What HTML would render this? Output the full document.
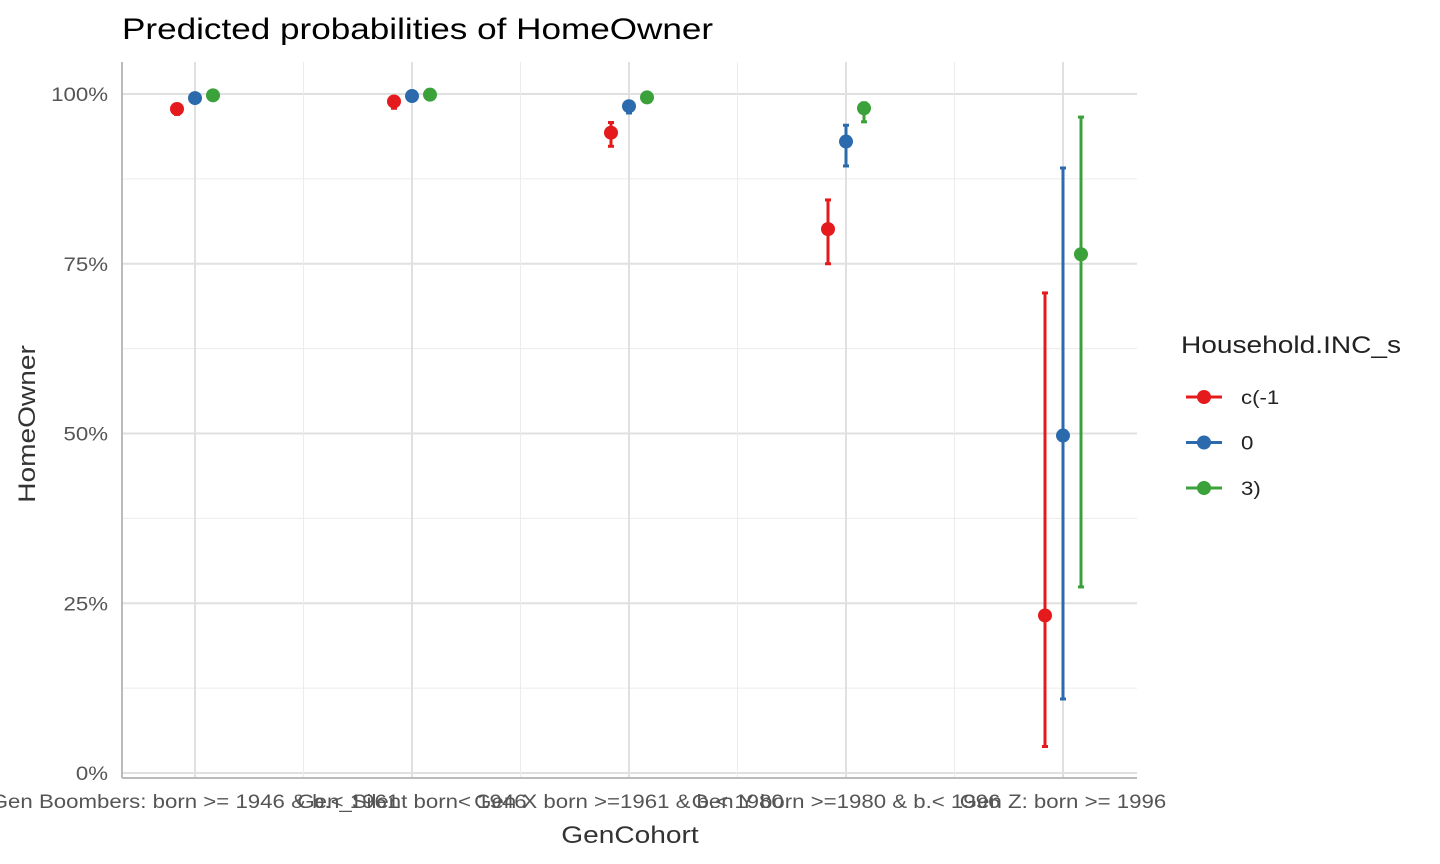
<!DOCTYPE html>
<html><head><meta charset="utf-8"><style>
body{margin:0;background:#fff;font-family:"Liberation Sans",Arial,sans-serif;}
svg{display:block}
</style></head><body>
<svg id="chart" width="1440" height="864">
<text x="122" y="39" font-size="30" fill="#000">Predicted probabilities of HomeOwner</text>
<g id="grid"></g>
<g id="axes"></g>
<g id="marks"></g>
<text x="630" y="843" font-size="24" fill="#333" text-anchor="middle">GenCohort</text>
<text transform="translate(35,424) rotate(-90)" font-size="24" fill="#333" text-anchor="middle">HomeOwner</text>
<g id="legend"></g>
</svg>
<script>
const categories=["Gen Boombers: born >= 1946 & b.< 1961","Gen_Silent born< 1946","Gen X born >=1961 & b.< 1980","Gen Y born >=1980 & b.< 1996","Gen Z: born >= 1996"];
const seriesNames=["c(-1","0","3)"];
const redVals=[97.8,98.9,94.3,80.1,23.2];
const redLo=[97.0,97.9,92.3,75.0,3.9];
const redHi=[98.5,99.5,95.8,84.4,70.7];
const blueVals=[99.4,99.7,98.2,93.0,49.7];
const blueLo=[99.0,99.4,97.2,89.4,10.9];
const blueHi=[99.7,99.9,98.9,95.4,89.1];
const greenVals=[99.8,99.9,99.5,97.9,76.4];
const greenLo=[99.6,99.8,99.1,95.9,27.4];
const greenHi=[99.9,100,99.7,98.7,96.6];
const yTicks=[0,25,50,75,100];
const yTickLabels=["0%","25%","50%","75%","100%"];
const colors=["#E41A1C","#2B6BAD","#3BA13B"];
const NS="http://www.w3.org/2000/svg";
const X0=122,X1=1137,Ytop=62,Ybot=778;
const y=v=>773-v*6.79;
const x=i=>195+i*217;
function mk(tag,attrs,parent){const e=document.createElementNS(NS,tag);for(const k in attrs)e.setAttribute(k,attrs[k]);parent.appendChild(e);return e;}
const grid=document.getElementById('grid'),axes=document.getElementById('axes'),marks=document.getElementById('marks'),legend=document.getElementById('legend');
for(let i=0;i<yTicks.length;i++){
  const l=mk('line',{x1:X0,x2:X1,y1:y(yTicks[i]),y2:y(yTicks[i]),stroke:'#e0e0e0','stroke-width':2},grid);
  
  if(i<yTicks.length-1){const m=mk('line',{x1:X0,x2:X1,y1:y(yTicks[i]+12.5),y2:y(yTicks[i]+12.5),stroke:'#ececec','stroke-width':1},grid);
  }
  const t=mk('text',{x:108,y:y(yTicks[i])+7,'font-size':19,fill:'#555','text-anchor':'end'},axes);t.textContent=yTickLabels[i];
  
}
for(let i=0;i<categories.length;i++){
  const l=mk('line',{x1:x(i),x2:x(i),y1:Ytop,y2:Ybot,stroke:'#e0e0e0','stroke-width':2},grid);
  
  if(i<categories.length-1){const m=mk('line',{x1:x(i)+108.5,x2:x(i)+108.5,y1:Ytop,y2:Ybot,stroke:'#ececec','stroke-width':1},grid);
  }
  const t=mk('text',{x:x(i),y:808,'font-size':19,fill:'#555','text-anchor':'middle'},axes);t.textContent=categories[i];
  
}
let a=mk('line',{x1:X0,x2:X0,y1:Ytop,y2:Ybot,stroke:'#bbb','stroke-width':2},axes);
a=mk('line',{x1:X0,x2:X1,y1:Ybot,y2:Ybot,stroke:'#bbb','stroke-width':2},axes);
const S=[[redVals,redLo,redHi],[blueVals,blueLo,blueHi],[greenVals,greenLo,greenHi]];
S.forEach((s,k)=>{
  const off=(k-1)*18;
  for(let i=0;i<categories.length;i++){
    const cx=x(i)+off;
    const g=mk('g',{},marks);
    
    mk('line',{x1:cx,x2:cx,y1:y(s[1][i]),y2:y(s[2][i]),stroke:colors[k],'stroke-width':3},g);
    mk('line',{x1:cx-3,x2:cx+3,y1:y(s[1][i]),y2:y(s[1][i]),stroke:colors[k],'stroke-width':3},g);
    mk('line',{x1:cx-3,x2:cx+3,y1:y(s[2][i]),y2:y(s[2][i]),stroke:colors[k],'stroke-width':3},g);
    mk('circle',{cx:cx,cy:y(s[0][i]),r:7,fill:colors[k]},g);
  }
});
let lt=mk('text',{x:1181,y:353,'font-size':24,fill:'#222'},legend);lt.textContent='Household.INC_s';

seriesNames.forEach((n,k)=>{
  const yy=397+k*45.5;
  const g=mk('g',{},legend);
  
  mk('line',{x1:1186,x2:1222,y1:yy,y2:yy,stroke:colors[k],'stroke-width':3},g);
  mk('circle',{cx:1204,cy:yy,r:7,fill:colors[k]},g);
  const t=mk('text',{x:1241,y:yy+7,'font-size':19,fill:'#222'},g);t.textContent=n;
});
// widen all text to match reference font metrics
document.querySelectorAll('svg text').forEach(t=>{
  const w=t.getComputedTextLength();
  t.setAttribute('textLength',(w*1.17).toFixed(1));
  t.setAttribute('lengthAdjust','spacingAndGlyphs');
});
</script>
</body></html>
